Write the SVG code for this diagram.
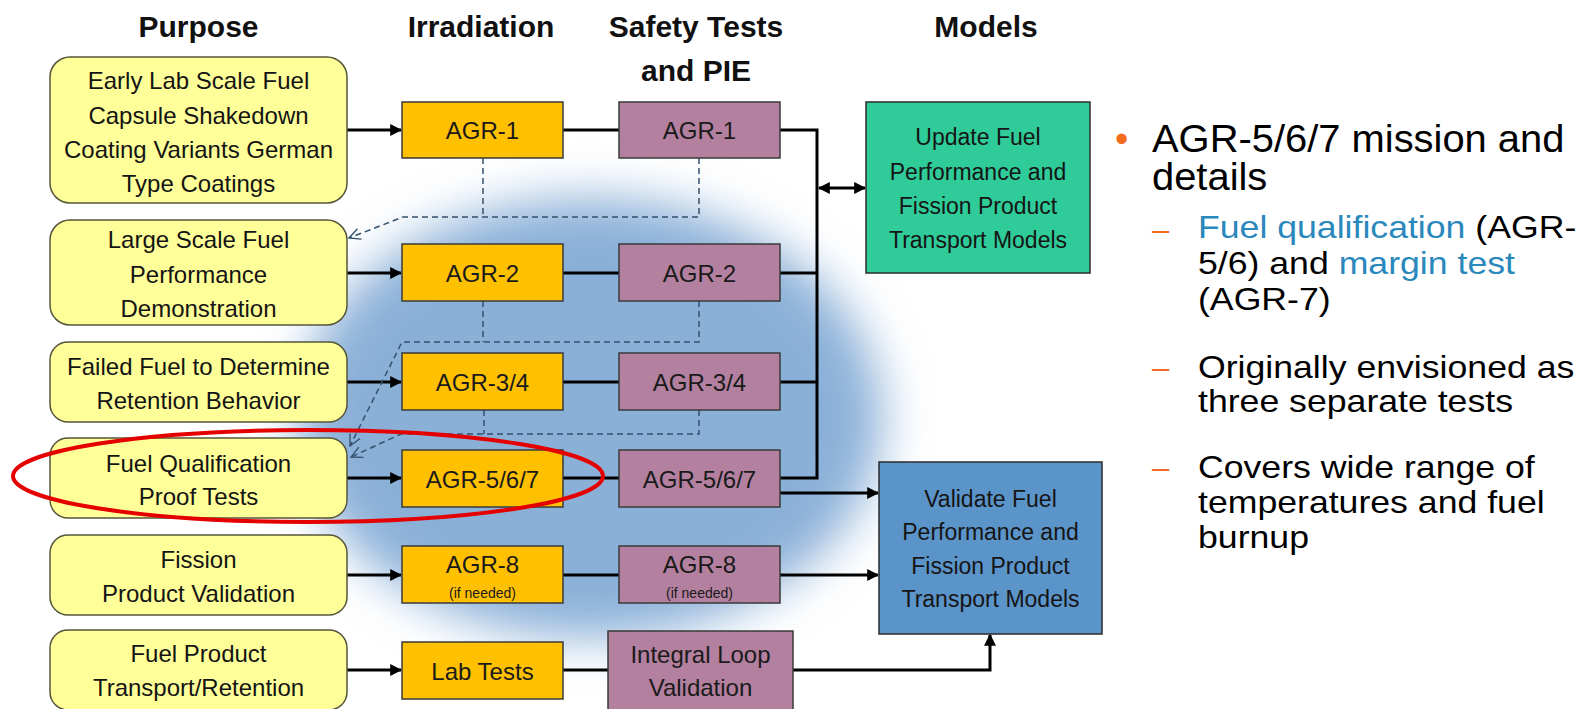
<svg xmlns="http://www.w3.org/2000/svg" width="1583" height="709" viewBox="0 0 1583 709">
  <style>
    text { font-family: "Liberation Sans", Arial, sans-serif; }
    .hdr { font-size: 30px; font-weight: bold; fill: #111; text-anchor: middle; }
    .purpose rect { fill: #FFFF99; stroke: #55553a; stroke-width: 1.5; }
    .purpose text { font-size: 24px; fill: #141414; text-anchor: middle; }
    .irr rect { fill: #FFC000; stroke: #3a3a3a; stroke-width: 1.5; }
    .pie rect { fill: #B3809F; stroke: #3a3a3a; stroke-width: 1.5; }
    .irr text, .pie text { font-size: 24px; fill: #1a1a1a; text-anchor: middle; }
    .small { font-size: 14px !important; }
    .model rect { stroke: #2b2b2b; stroke-width: 1.5; }
    .model text { font-size: 23px; fill: #151515; text-anchor: middle; }
    .solid { fill: none; stroke: #000; stroke-width: 3; }
    .dash { fill: none; stroke: #34506c; stroke-width: 1.5; stroke-dasharray: 6 4; }
    .main { font-size: 38px; fill: #000; }
    .sub { font-size: 31px; fill: #000; }
    .hl { fill: #2A88BD; }
    .mark { fill: #F26B21; }
  </style>
  <defs>
    <marker id="arrow" viewBox="0 0 10 10" refX="9" refY="5" markerWidth="4" markerHeight="4" orient="auto-start-reverse" markerUnits="strokeWidth">
      <path d="M0,0 L10,5 L0,10 z" fill="#000"/>
    </marker>
    <marker id="open" viewBox="0 0 12 12" refX="11" refY="6" markerWidth="9" markerHeight="9" orient="auto" markerUnits="strokeWidth">
      <path d="M1,1 L11,6 L1,11" fill="none" stroke="#34506c" stroke-width="1.2"/>
    </marker>
    <filter id="soft" x="-50%" y="-50%" width="200%" height="200%">
      <feGaussianBlur stdDeviation="24"/>
    </filter>
  </defs>

  <rect width="1583" height="709" fill="#fff"/>

  <!-- soft blue backdrop behind the test rows -->
  <ellipse cx="590" cy="418" rx="292" ry="220" fill="#8bb0d8" filter="url(#soft)"/>

  <!-- column headings -->
  <g id="headings">
    <text class="hdr" x="198.5" y="37">Purpose</text>
    <text class="hdr" x="481" y="37">Irradiation</text>
    <text class="hdr" x="696" y="37">Safety Tests</text>
    <text class="hdr" x="696" y="81">and PIE</text>
    <text class="hdr" x="986" y="37">Models</text>
  </g>

  <!-- connectors -->
  <g id="connectors">
    <path class="solid" marker-end="url(#arrow)" d="M347,130 H401"/>
    <path class="solid" marker-end="url(#arrow)" d="M347,273 H401"/>
    <path class="solid" marker-end="url(#arrow)" d="M347,382 H401"/>
    <path class="solid" marker-end="url(#arrow)" d="M347,478 H401"/>
    <path class="solid" marker-end="url(#arrow)" d="M347,575 H401"/>
    <path class="solid" marker-end="url(#arrow)" d="M347,670 H401"/>

    <path class="solid" d="M563,130 H619 M563,273 H619 M563,382 H619 M563,478 H619 M563,575 H619 M563,670 H608"/>

    <path class="solid" d="M780,130 H817 V478 H780 M780,273 H817 M780,382 H817"/>
    <path class="solid" marker-start="url(#arrow)" marker-end="url(#arrow)" d="M819,188 H865"/>
    <path class="solid" marker-end="url(#arrow)" d="M780,493 H878"/>
    <path class="solid" marker-end="url(#arrow)" d="M780,575 H878"/>
    <path class="solid" marker-end="url(#arrow)" d="M793,670 H990 V635"/>

    <path class="dash" d="M483,158 V217"/>
    <path class="dash" marker-end="url(#open)" d="M699,158 V217 H403 L349,238"/>
    <path class="dash" d="M483,301 V342"/>
    <path class="dash" marker-end="url(#open)" d="M699,301 V342 H402 L350,446"/>
    <path class="dash" d="M484,410 V434"/>
    <path class="dash" marker-end="url(#open)" d="M699,410 V434 H401 L351,457"/>
  </g>

  <!-- purpose column -->
  <g id="purpose-early" class="purpose">
    <rect x="50" y="57" width="297" height="146" rx="20"/>
    <text x="198.5" y="89">Early Lab Scale Fuel</text>
    <text x="198.5" y="124">Capsule Shakedown</text>
    <text x="198.5" y="158">Coating Variants German</text>
    <text x="198.5" y="192">Type Coatings</text>
  </g>
  <g id="purpose-large" class="purpose">
    <rect x="50" y="220" width="297" height="105" rx="20"/>
    <text x="198.5" y="248">Large Scale Fuel</text>
    <text x="198.5" y="283">Performance</text>
    <text x="198.5" y="317">Demonstration</text>
  </g>
  <g id="purpose-failed" class="purpose">
    <rect x="50" y="342" width="297" height="80" rx="18"/>
    <text x="198.5" y="375">Failed Fuel to Determine</text>
    <text x="198.5" y="409">Retention Behavior</text>
  </g>
  <g id="purpose-qual" class="purpose">
    <rect x="50" y="438" width="297" height="80" rx="18"/>
    <text x="198.5" y="472">Fuel Qualification</text>
    <text x="198.5" y="505">Proof Tests</text>
  </g>
  <g id="purpose-fission" class="purpose">
    <rect x="50" y="535" width="297" height="80" rx="18"/>
    <text x="198.5" y="568">Fission</text>
    <text x="198.5" y="602">Product Validation</text>
  </g>
  <g id="purpose-transport" class="purpose">
    <rect x="50" y="630" width="297" height="80" rx="18"/>
    <text x="198.5" y="662">Fuel Product</text>
    <text x="198.5" y="696">Transport/Retention</text>
  </g>

  <!-- irradiation column -->
  <g id="irr-agr1" class="irr">
    <rect x="402" y="102" width="161" height="56"/>
    <text x="482.5" y="139">AGR-1</text>
  </g>
  <g id="irr-agr2" class="irr">
    <rect x="402" y="244" width="161" height="57"/>
    <text x="482.5" y="282">AGR-2</text>
  </g>
  <g id="irr-agr34" class="irr">
    <rect x="402" y="353" width="161" height="57"/>
    <text x="482.5" y="391">AGR-3/4</text>
  </g>
  <g id="irr-agr567" class="irr">
    <rect x="402" y="450" width="161" height="57"/>
    <text x="482.5" y="488">AGR-5/6/7</text>
  </g>
  <g id="irr-agr8" class="irr">
    <rect x="402" y="546" width="161" height="57"/>
    <text x="482.5" y="573">AGR-8</text>
    <text class="small" x="482.5" y="598">(if needed)</text>
  </g>
  <g id="irr-lab" class="irr">
    <rect x="402" y="642" width="161" height="57"/>
    <text x="482.5" y="680">Lab Tests</text>
  </g>

  <!-- safety tests and PIE column -->
  <g id="pie-agr1" class="pie">
    <rect x="619" y="102" width="161" height="56"/>
    <text x="699.5" y="139">AGR-1</text>
  </g>
  <g id="pie-agr2" class="pie">
    <rect x="619" y="244" width="161" height="57"/>
    <text x="699.5" y="282">AGR-2</text>
  </g>
  <g id="pie-agr34" class="pie">
    <rect x="619" y="353" width="161" height="57"/>
    <text x="699.5" y="391">AGR-3/4</text>
  </g>
  <g id="pie-agr567" class="pie">
    <rect x="619" y="450" width="161" height="57"/>
    <text x="699.5" y="488">AGR-5/6/7</text>
  </g>
  <g id="pie-agr8" class="pie">
    <rect x="619" y="546" width="161" height="57"/>
    <text x="699.5" y="573">AGR-8</text>
    <text class="small" x="699.5" y="598">(if needed)</text>
  </g>
  <g id="pie-loop" class="pie">
    <rect x="608" y="631" width="185" height="82"/>
    <text x="700.5" y="663">Integral Loop</text>
    <text x="700.5" y="696">Validation</text>
  </g>

  <!-- models column -->
  <g id="model-update" class="model">
    <rect x="866" y="102" width="224" height="171" fill="#2FCB98"/>
    <text x="978" y="145">Update Fuel</text>
    <text x="978" y="180">Performance and</text>
    <text x="978" y="214">Fission Product</text>
    <text x="978" y="248">Transport Models</text>
  </g>
  <g id="model-validate" class="model">
    <rect x="879" y="462" width="223" height="172" fill="#5B94C8"/>
    <text x="990.5" y="507">Validate Fuel</text>
    <text x="990.5" y="540">Performance and</text>
    <text x="990.5" y="574">Fission Product</text>
    <text x="990.5" y="607">Transport Models</text>
  </g>

  <!-- highlight around the AGR-5/6/7 row -->
  <ellipse id="highlight" cx="308" cy="476" rx="295" ry="46" fill="none" stroke="#E50000" stroke-width="4"/>

  <!-- bullet notes -->
  <g id="notes">
    <text class="main mark" x="1115" y="152">•</text>
    <g transform="translate(1152,0) scale(1.05,1)">
      <text class="main" x="0" y="152">AGR-5/6/7 mission and</text>
      <text class="main" x="0" y="190">details</text>
    </g>
    <text class="sub mark" x="1152" y="240">–</text>
    <text class="sub mark" x="1152" y="378">–</text>
    <text class="sub mark" x="1152" y="478">–</text>
    <g transform="translate(1198,0) scale(1.15,1)">
      <text class="sub" x="0" y="238"><tspan class="hl">Fuel qualification</tspan> (AGR-</text>
      <text class="sub" x="0" y="274">5/6) and <tspan class="hl">margin test</tspan></text>
      <text class="sub" x="0" y="310">(AGR-7)</text>
      <text class="sub" x="0" y="378">Originally envisioned as</text>
      <text class="sub" x="0" y="412">three separate tests</text>
      <text class="sub" x="0" y="478">Covers wide range of</text>
      <text class="sub" x="0" y="513">temperatures and fuel</text>
      <text class="sub" x="0" y="548">burnup</text>
    </g>
  </g>
</svg>
